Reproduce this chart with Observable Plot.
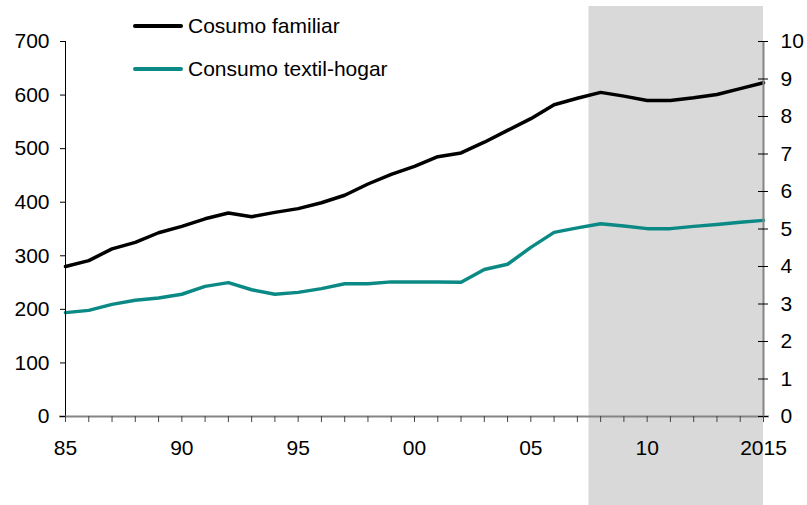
<!DOCTYPE html>
<html><head><meta charset="utf-8">
<script src="https://cdn.jsdelivr.net/npm/d3@7"></script>
<script src="https://cdn.jsdelivr.net/npm/@observablehq/plot@0.6"></script>
<style>
body{margin:0;background:#fff;font-family:"Liberation Sans",Arial,sans-serif;}
#wrap{position:relative;width:807px;height:505px;overflow:hidden;}
#wrap svg{position:absolute;left:0;top:0;}
.leg{position:absolute;left:133px;height:24px;display:flex;align-items:center;font-size:21px;color:#000;white-space:nowrap;}
.leg .sw{display:inline-block;width:50px;height:4px;margin-right:5px;border-radius:2px;}
</style></head><body><div id="wrap"></div>
<script>
const years = [1985,1986,1987,1988,1989,1990,1991,1992,1993,1994,1995,1996,1997,1998,1999,2000,2001,2002,2003,2004,2005,2006,2007,2008,2009,2010,2011,2012,2013,2014,2015];
// left axis
const consumoFamiliar = [280,291,313,325,343,355,369,380,373,381,388,399,413,434,452,467,485,492,512,534,556,582,594,605,598,590,590,595,601,612,623];
// right axis
const consumoTextilHogar = [2.77,2.83,2.99,3.10,3.16,3.26,3.47,3.57,3.38,3.26,3.31,3.41,3.54,3.54,3.59,3.59,3.59,3.58,3.92,4.06,4.51,4.91,5.03,5.14,5.08,5.01,5.01,5.07,5.12,5.18,5.23];
const seriesNames = ["Cosumo familiar", "Consumo textil-hogar"];
const seriesColors = ["#000000", "#0b8a85"];
const leftTicks = [0,100,200,300,400,500,600,700];
const rightTicks = [0,1,2,3,4,5,6,7,8,9,10];
const xLabelYears = [1985,1990,1995,2000,2005,2010,2015];
const xLabels = ["85","90","95","00","05","10","2015"];
const shade = [{start: 2007.5, end: 2015}];

const RATIO = 700 / 10; // right axis -> left axis
const rows = years.map((yr, i) => ({year: yr, fam: consumoFamiliar[i], tex: consumoTextilHogar[i]}));
const xLabelMap = new Map(xLabelYears.map((y, i) => [y, xLabels[i]]));

const chart = Plot.plot({
  width: 807, height: 505,
  marginLeft: 65, marginRight: 44, marginTop: 41, marginBottom: 89,
  style: {fontFamily: "Liberation Sans, Arial, sans-serif", fontSize: "21px", color: "#000", background: "transparent", overflow: "visible"},
  x: {domain: [1985, 2015], label: null},
  y: {domain: [0, 700], label: null},
  marks: [
    Plot.rect(shade, {x1: "start", x2: "end", fill: "#d9d9d9", insetTop: -35, insetBottom: -89}),
    Plot.line(rows, {x: "year", y: "fam", stroke: seriesColors[0], strokeWidth: 3.5}),
    Plot.line(rows, {x: "year", y: d => d.tex * RATIO, stroke: seriesColors[1], strokeWidth: 3.5}),
    Plot.ruleX([1985], {stroke: "#000", strokeWidth: 1}),
    Plot.ruleX([2015], {stroke: "#858585", strokeWidth: 2}),
    Plot.ruleY([0], {stroke: "#858585", strokeWidth: 2, insetLeft: -6, insetRight: -6}),
    Plot.axisY({ticks: leftTicks, tickSize: 5, tickPadding: 11, label: null, tickFormat: d => String(d)}),
    Plot.ruleY(rightTicks, {y: d => d * RATIO, x1: () => 2015, x2: () => 2015, insetLeft: -5, insetRight: -5, stroke: "#000", strokeWidth: 1}),
    Plot.axisY({anchor: "right", ticks: rightTicks.map(d => d * RATIO), tickSize: 0, tickPadding: 17, label: null, tickFormat: d => String(Math.round(d / RATIO))}),
    Plot.axisX({ticks: years, tickSize: 6, stroke: "#444", label: null, tickFormat: () => ""}),
    Plot.axisX({ticks: xLabelYears, tickSize: 0, tickPadding: 24, label: null, tickFormat: d => xLabelMap.get(d)})
  ]
});
const wrap = document.getElementById("wrap");
wrap.appendChild(chart);
const legendTops = [14, 57];
seriesNames.forEach((name, i) => {
  const d = document.createElement("div");
  d.className = "leg";
  d.style.top = legendTops[i] + "px";
  const sw = document.createElement("span");
  sw.className = "sw";
  sw.style.background = seriesColors[i];
  d.appendChild(sw);
  d.appendChild(document.createTextNode(name));
  wrap.appendChild(d);
});
</script>
</body></html>
